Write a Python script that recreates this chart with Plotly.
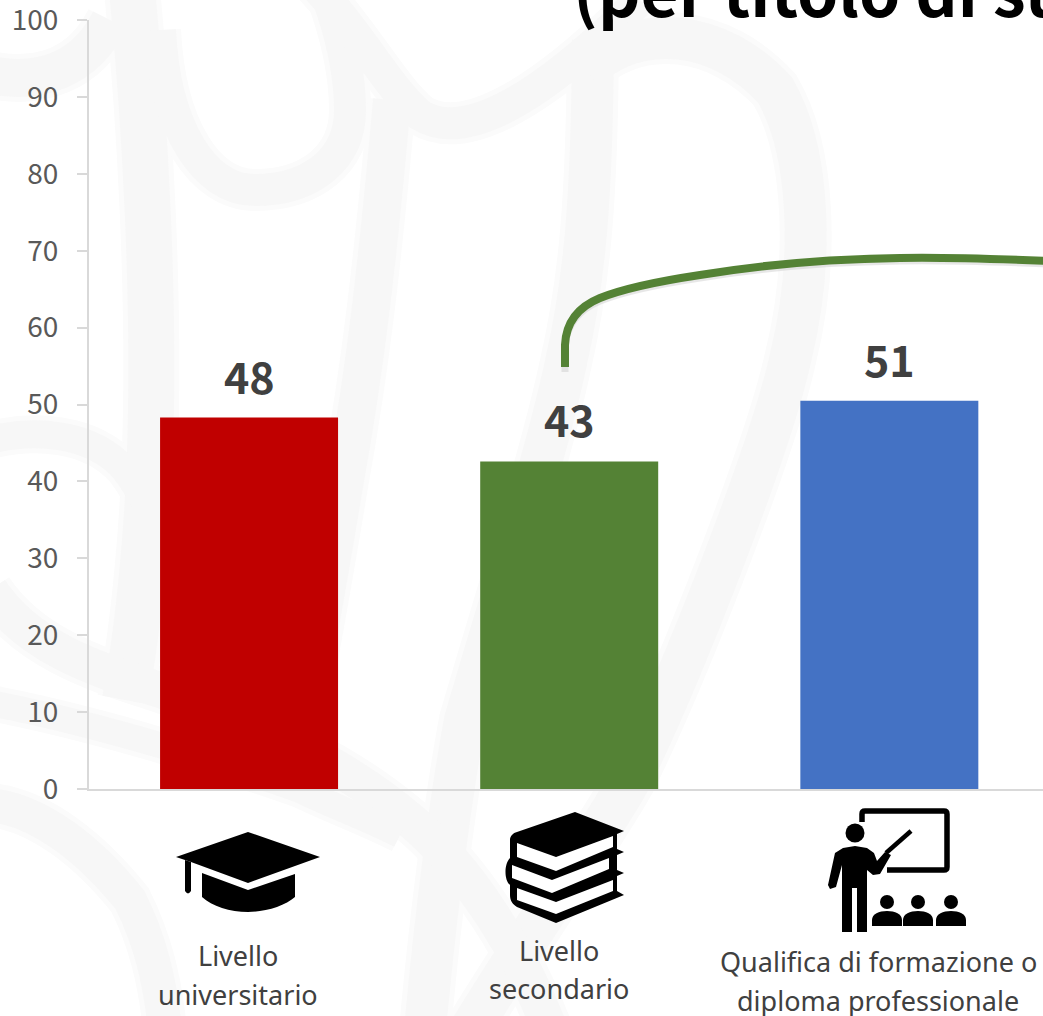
import re
import plotly.graph_objects as go

categories = ["Livello universitario", "Livello secondario", "Qualifica di formazione o diploma professionale"]
values = [48.3, 42.6, 50.5]
value_labels = ["48", "43", "51"]
bar_colors = ["#C00000", "#548235", "#4472C4"]
y_ticks = [0, 10, 20, 30, 40, 50, 60, 70, 80, 90, 100]
title_text = "(per titolo di studio)"

W, H = 1043, 1016
L, T, B = 89, 20, 789


def px(x):
    return (x - L) / (W - L)


def py(y):
    return (B - y) / (B - T)


def path(d):
    """Pixel-page path (decorations only) to paper coordinates."""
    idx = 0

    def rep(m):
        nonlocal idx
        v = float(m.group(0))
        r = px(v) if idx % 2 == 0 else py(v)
        idx += 1
        return f"{r:.5f}"
    return re.sub(r"-?\d+\.?\d*", rep, d)


shapes = []


def stroke(d, color, width, layer="above", opacity=1):
    shapes.append(dict(type="path", path=path(d), xref="paper", yref="paper", layer=layer, opacity=opacity,
                       line=dict(color=color, width=width), fillcolor="rgba(0,0,0,0)"))


def fill(d, color="#000000", layer="above"):
    shapes.append(dict(type="path", path=path(d), xref="paper", yref="paper", layer=layer,
                       line=dict(width=0), fillcolor=color))


def circle(cx, cy, r, color="#000000"):
    shapes.append(dict(type="circle", xref="paper", yref="paper", x0=px(cx - r), x1=px(cx + r),
                       y0=py(cy - r), y1=py(cy + r), line=dict(width=0), fillcolor=color, layer="above"))


# faint background watermark (soft edge: wide pale pass, then the core)
WATERMARK = [
    ("M-10 75 C 40 85, 85 70, 110 20", 38),
    ("M132 -10 C 145 120, 155 300, 150 450 C 148 520, 140 620, 125 700", 46),
    ("M160 30 C 165 130, 205 190, 255 190 C 310 190, 350 160, 350 110 C 350 70, 340 30, 325 -10", 32),
    ("M300 -30 C 360 30, 385 85, 420 115 C 460 140, 530 110, 640 0", 32),
    ("M392 100 C 378 260, 365 370, 345 480 C 335 540, 325 600, 310 680", 38),
    ("M593 40 C 592 200, 585 280, 565 367 C 545 460, 500 600, 465 720 C 450 800, 435 920, 425 1030", 42),
    ("M585 70 C 640 20, 720 30, 775 90 C 810 150, 815 260, 790 360 C 770 450, 680 680, 630 780 C 590 850, 550 900, 470 1030", 42),
    ("M-10 440 C 30 430, 90 430, 125 470 C 140 490, 150 510, 155 530", 28),
    ("M-10 590 C 30 650, 100 670, 160 690 C 250 720, 340 760, 410 820 C 470 870, 520 950, 550 1030", 36),
    ("M-10 703 C 80 720, 200 755, 300 790 C 330 805, 360 815, 400 835", 26),
    ("M-10 805 C 40 810, 90 850, 130 900 C 150 940, 160 980, 165 1030", 34),
]
for d, w in WATERMARK:
    stroke(d, "#fbfbfb", w + 10, layer="below")
for d, w in WATERMARK:
    stroke(d, "#f7f7f7", w, layer="below")

# green connector with a soft shadow
CURVE = "M565 367 L565 345 C 566 322, 578 307, 600 298 C 625 288, 660 281, 700 275 C 760 265, 830 259, 900 258 C 950 257, 1000 259, 1050 261"
SHADOW = "M565 372 L565 348 C 566 325, 578 310, 600 301 C 625 291, 660 284, 700 278 C 760 268, 830 262, 900 261 C 950 260, 1000 262, 1050 264"
stroke(SHADOW, "#bdbdbd", 7, opacity=0.35)
stroke(CURVE, "#548235", 8)

# graduation cap
fill("M248 832 L320 857 L248 883 L191 862 L176 857 Z")
fill("M185 860 L191 862 L191 891 Q188 896 185 891 Z")
fill("M202 873 L248 890 L295 874 L295 897 C 285 906, 265 912, 248 912 C 230 912, 212 906, 202 897 Z")

# stack of books
fill("M575 812 L624 831 L617 834 L617 849 L624 852 L617 855 L617 870 L624 873 L617 876 L617 891 L624 895 "
     "L556 923 L517 907 C 512 904, 510 900, 510 895 L510 885 C 504 880, 504 864, 510 858 L510 840 C 510 836, 513 833, 517 832 Z")
for d in ["M517 843 L556 857 L613 836 L613 847 L556 871 L517 857 Z",
          "M512 865 L552 880 L609 858 L609 869 L552 893 L512 878 Z",
          "M517 888 L556 902 L613 880 L613 891 L556 914 L517 900 Z"]:
    fill(d, "#ffffff")

# teacher
stroke("M862 822 L862 814 Q862 811 865 811 L944 811 Q947 811 947 814 L947 867 Q947 870 944 870 L887 870", "#000000", 5.5)
circle(855, 833, 9.5)
fill("M835 853 L843 848 L855 846 L867 848 L874 853 L877 861 L885 852 L891 855 L880 874 L873 875 L867 870 "
     "L867 932 L857 932 L857 888 L852 888 L852 932 L842 932 L842 865 L836 887 L830 889 L828 885 Z")
stroke("M886 853 L911 831", "#000000", 4.5)
for cx in (887, 918, 951):
    circle(cx, 902, 7)
    fill(f"M{cx-15} 926 L{cx-15} 920 C {cx-15} 914, {cx-8} 911, {cx} 911 C {cx+8} 911, {cx+15} 914, {cx+15} 920 L{cx+15} 926 Z")

LABEL_FONT = dict(family="Noto Sans", size=27, color="#404040")
annotations = []
for cx, cy, txt in [(238, 955, "Livello"), (238, 994, "universitario"),
                    (559, 950, "Livello"), (559, 988, "secondario"),
                    (878, 961, "Qualifica di formazione o"), (878, 1000, "diploma professionale")]:
    annotations.append(dict(x=px(cx), y=py(cy), xref="paper", yref="paper", text=txt, showarrow=False,
                            xanchor="center", yanchor="middle", font=LABEL_FONT))

# value labels tied to the bars
for cat, v, lab in zip(categories, values, value_labels):
    annotations.append(dict(x=cat, y=v, xref="x", yref="y", text=lab, showarrow=False, xanchor="center",
                            yanchor="bottom", yshift=10,
                            font=dict(family="Noto Sans CJK JP", size=43, color="#404040", weight="bold")))

annotations.append(dict(x=px(571), y=py(38), xref="paper", yref="paper", text=title_text, showarrow=False,
                        xanchor="left", yanchor="bottom",
                        font=dict(family="Noto Sans CJK JP", size=66, color="#000000", weight="bold")))

fig = go.Figure(go.Bar(x=categories, y=values, width=0.556, marker=dict(color=bar_colors, line=dict(width=0)),
                       hoverinfo="skip"))
fig.update_layout(
    width=W, height=H, autosize=False, margin=dict(l=L, r=0, t=T, b=H - B, pad=0, autoexpand=False),
    paper_bgcolor="#ffffff", plot_bgcolor="rgba(0,0,0,0)", showlegend=False,
    shapes=shapes, annotations=annotations,
    xaxis=dict(type="category", range=[-0.5, 2.48], showticklabels=False, ticks="", showgrid=False,
               showline=True, linecolor="#d9d9d9", linewidth=2, zeroline=False, fixedrange=True, automargin=False),
    yaxis=dict(range=[0, 100], tickvals=y_ticks, ticks="outside", ticklen=10, tickwidth=2, tickcolor="#d9d9d9",
               showline=True, linecolor="#d9d9d9", linewidth=2, showgrid=False, zeroline=False, fixedrange=True,
               tickfont=dict(family="Noto Sans CJK JP", size=28, color="#595959"), ticklabelstandoff=13,
               ticklabeloverflow="allow", automargin=False),
)
fig.write_html("out.html", config=dict(displayModeBar=False), post_script="document.body.style.margin='0';")
